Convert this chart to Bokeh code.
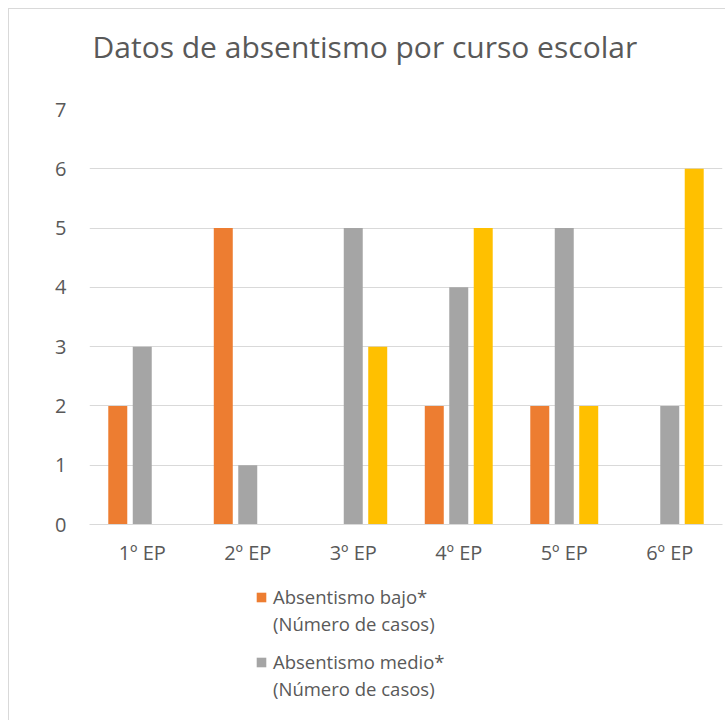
from bokeh.plotting import figure
from bokeh.layouts import column
from bokeh.models import FactorRange, Range1d, Legend, LegendItem, ColumnDataSource, FixedTicker, Title
from bokeh.transform import dodge
from bokeh.embed import file_html
from bokeh.resources import INLINE

cursos = ["1º EP", "2º EP", "3º EP", "4º EP", "5º EP", "6º EP"]
bajo = [2, 5, 0, 2, 2, 0]
medio = [3, 1, 5, 4, 5, 2]
alto = [0, 0, 3, 5, 2, 6]
nombre_bajo = ["Absentismo bajo*", "(Número de casos)"]
nombre_medio = ["Absentismo medio*", "(Número de casos)"]
titulo = "Datos de absentismo por curso escolar"
y_ticks = [0, 1, 2, 3, 4, 5, 6, 7]

FONT = "Open Sans"
TXT = "#595959"
GRID = "#D9D9D9"
C_BAJO, C_MEDIO, C_ALTO = "#ED7D31", "#A5A5A5", "#FFC000"

source = ColumnDataSource(dict(curso=cursos, bajo=bajo, medio=medio, alto=alto))

p = figure(width=716, height=570, x_range=FactorRange(*cursos), y_range=Range1d(0, 7),
           output_backend="svg", toolbar_location=None,
           min_border_left=80, min_border_right=3, min_border_top=100, min_border_bottom=55)
p.title = None
# spacer between chart title and plot area
p.add_layout(Title(text=" ", text_font_size="1px", standoff=25), "above")
p.add_layout(Title(text=titulo, text_font=FONT, text_font_size="30px", text_font_style="normal",
                   text_color=TXT, align="left", offset=3, standoff=26, vertical_align="top"), "above")

p.vbar(x=dodge("curso", -0.232, range=p.x_range), top="bajo", width=0.18, source=source,
       fill_color=C_BAJO, line_color=None)
p.vbar(x=dodge("curso", 0.0, range=p.x_range), top="medio", width=0.18, source=source,
       fill_color=C_MEDIO, line_color=None)
p.vbar(x=dodge("curso", 0.232, range=p.x_range), top="alto", width=0.18, source=source,
       fill_color=C_ALTO, line_color=None)

p.outline_line_color = None
p.xgrid.grid_line_color = None
p.ygrid.ticker = FixedTicker(ticks=y_ticks)
p.ygrid.grid_line_color = GRID
p.ygrid.grid_line_width = 1

p.yaxis.ticker = FixedTicker(ticks=y_ticks)
p.yaxis.axis_line_color = None
p.yaxis.major_tick_line_color = None
p.yaxis.minor_tick_line_color = None
p.yaxis.major_label_text_font = FONT
p.yaxis.major_label_text_font_size = "20px"
p.yaxis.major_label_text_color = TXT
p.yaxis.major_label_standoff = 17

p.xaxis.axis_line_color = GRID
p.xaxis.major_tick_line_color = None
p.xaxis.minor_tick_line_color = None
p.xaxis.major_label_text_font = FONT
p.xaxis.major_label_text_font_size = "20px"
p.xaxis.major_label_text_color = TXT
p.xaxis.major_label_standoff = 8

# legend panel below the chart (its renderers are hidden; only the swatches show)
q = figure(width=716, height=141, x_range=FactorRange(*cursos), y_range=Range1d(0, 7),
           output_backend="svg", toolbar_location=None, x_axis_type=None, y_axis_type=None,
           min_border_left=0, min_border_right=0, min_border_top=0, min_border_bottom=0)
q.outline_line_color = None
q.xgrid.grid_line_color = None
q.ygrid.grid_line_color = None
lr1 = q.vbar(x="curso", top="bajo", width=0.18, source=source, fill_color=C_BAJO, line_color=None)
lr2 = q.vbar(x="curso", top="medio", width=0.18, source=source, fill_color=C_MEDIO, line_color=None)
lr0 = q.vbar(x="curso", top="medio", width=0.18, source=source, fill_color=C_MEDIO,
             fill_alpha=0, line_color=None)
for r in (lr1, lr2, lr0):
    r.visible = False


def make_legend(names, rend, loc):
    lg = Legend(items=[LegendItem(label=names[0], renderers=[rend]),
                       LegendItem(label=names[1], renderers=[lr0])],
                location=loc, orientation="vertical")
    lg.click_policy = "none"
    lg.label_text_font = FONT
    lg.label_text_font_size = "18.5px"
    lg.label_text_color = TXT
    lg.label_text_line_height = 1.0
    lg.label_height = 27
    lg.glyph_width = 12
    lg.glyph_height = 12
    lg.padding = 0
    lg.margin = 0
    lg.spacing = 0
    lg.label_standoff = 6
    lg.border_line_color = None
    lg.background_fill_alpha = 0
    return lg


q.add_layout(make_legend(nombre_bajo, lr1, (166, 83)), "center")
q.add_layout(make_legend(nombre_medio, lr2, (166, 18)), "center")

layout = column(p, q, spacing=0,
                styles={"border-left": "1px solid #D9D9D9", "border-top": "1px solid #D9D9D9",
                        "margin-left": "8px", "margin-top": "8px"})

open("out.html", "w").write(file_html(layout, INLINE))
